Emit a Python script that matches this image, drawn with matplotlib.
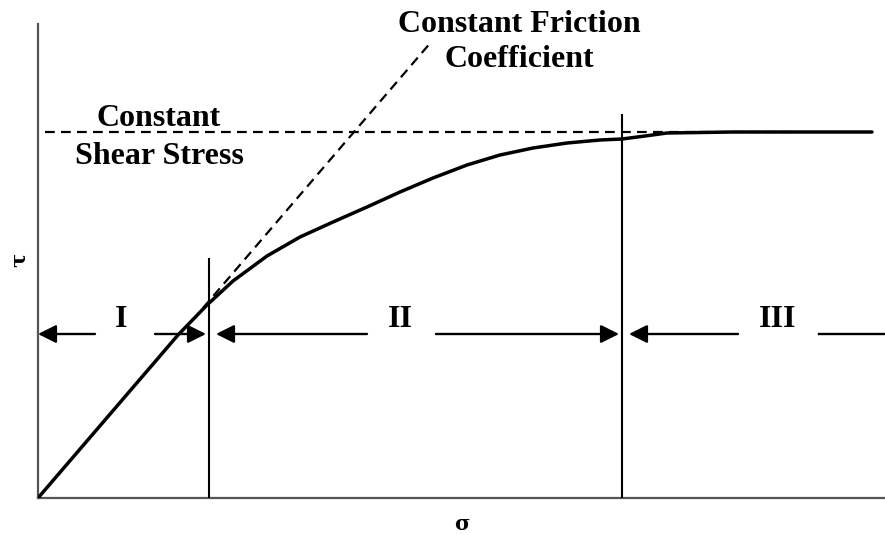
import matplotlib
matplotlib.use("Agg")
import matplotlib.pyplot as plt

# Shear stress (tau) versus normal stress (sigma), friction regimes I-III
sigma = [0, 140, 169, 195, 229, 262, 295, 329, 362, 395, 429, 462, 495, 529,
         562, 584, 607, 629, 695, 834]
tau = [0, 163, 193, 217, 242, 261, 276, 291, 306, 320, 333, 343, 350, 355,
       358, 359, 362, 365, 366, 366]

# Reference lines
shear_limit = 366                 # constant shear stress level
shear_limit_span = [7, 755]
friction_x = [165, 394]           # constant friction coefficient line
friction_y = [190, 457]

# Regime boundaries
boundary_x = [171, 584]
boundary_top = [239, 383]

regime_labels = ["I", "II", "III"]
regime_label_x = [83, 362, 740]

XMAX, YMAX = 847, 474

fig = plt.figure(figsize=(8.85, 5.35), dpi=100)
ax = fig.add_axes([38 / 885, 37 / 535, 847 / 885, 474 / 535])
ax.set_xlim(0, XMAX)
ax.set_ylim(0, YMAX)
for side in ("top", "right"):
    ax.spines[side].set_visible(False)
for side in ("left", "bottom"):
    ax.spines[side].set_color("#555555")
    ax.spines[side].set_linewidth(1.6)
ax.set_xticks([])
ax.set_yticks([])

font = dict(family="Liberation Serif", weight="bold", size=23, color="black")

# dashed reference lines
ax.plot(shear_limit_span, [shear_limit, shear_limit], color="black", lw=1.6,
        dashes=(4.4, 2.8), zorder=2)
ax.plot(friction_x, friction_y, color="black", lw=1.6, dashes=(4.4, 2.8), zorder=2,
        clip_on=False)

# boundaries between regimes
for bx, bt in zip(boundary_x, boundary_top):
    ax.plot([bx, bx], [0, bt], color="black", lw=1.5, zorder=3)

# measured curve
ax.plot(sigma, tau, color="black", lw=2.5, solid_joinstyle="round",
        solid_capstyle="round", antialiased=True, zorder=4)

# regime extent arrows
arrow_y = 164
head = dict(arrowstyle="-|>,head_length=1.1,head_width=0.55", lw=1.7,
            color="black", shrinkA=0, shrinkB=0)
edges = [0] + boundary_x + [XMAX]
gaps = [(57, 117), (329, 398), (700, 781)]
for i, (lo, hi) in enumerate(zip(edges[:-1], edges[1:])):
    left_tip = lo + (0 if i == 0 else 7)
    right_tip = hi - 3
    g0, g1 = gaps[i]
    ax.annotate("", xy=(left_tip, arrow_y), xytext=(g0, arrow_y),
                arrowprops=head, annotation_clip=False)
    if i < 2:
        ax.annotate("", xy=(right_tip, arrow_y), xytext=(g1, arrow_y),
                    arrowprops=head, annotation_clip=False)
    else:
        ax.plot([g1, XMAX], [arrow_y, arrow_y], color="black", lw=1.7,
                clip_on=False)
    ax.text(regime_label_x[i], 171, regime_labels[i], ha="center",
            va="baseline", **font)

# annotations for the reference lines
ax.text(481, 466, "Constant Friction", ha="center", va="baseline", **font)
ax.text(481, 431, "Coefficient", ha="center", va="baseline", **font)
ax.text(121, 372, "Constant", ha="center", va="baseline", **font)
ax.text(121, 334, "Shear Stress", ha="center", va="baseline", **font)

# axis symbols
greek = dict(family="DejaVu Serif", weight="bold", size=15, color="black")
ax.text(424, -32, "σ", ha="center", va="baseline", **greek)
ax.text(-19, 238, "τ", ha="center", va="center", rotation=90, **greek)

fig.savefig("out.png", dpi=100)
